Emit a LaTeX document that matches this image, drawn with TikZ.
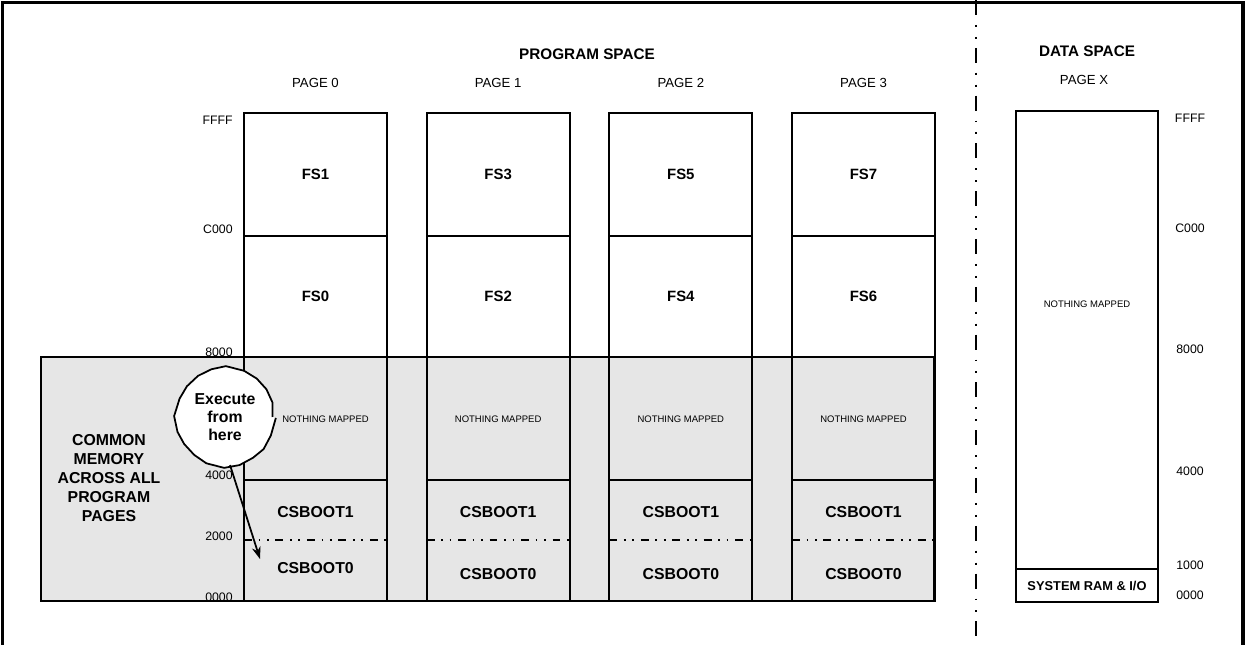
\documentclass[tikz,border=0pt]{standalone}
\usepackage{fontspec}
\setmainfont{Liberation Sans}
\usepackage{xcolor}
\definecolor{commonGray}{HTML}{E6E6E6}
\usetikzlibrary{arrows.meta,decorations.pathmorphing}

\tikzset{
  region/.style={draw, line width=1pt},
  addr/.style={font=\fontsize{7}{8}\selectfont, inner sep=0pt},
  pagelbl/.style={font=\fontsize{7.5}{9}\selectfont, inner sep=0pt},
  spacetitle/.style={font=\bfseries\fontsize{8.7}{10}\selectfont, inner sep=0pt},
  seglbl/.style={font=\bfseries\fontsize{9}{10.8}\selectfont, inner sep=0pt, align=center},
  fslbl/.style={font=\bfseries\fontsize{8.5}{10}\selectfont, inner sep=0pt},
  tinylbl/.style={font=\fontsize{5.4}{6}\selectfont, inner sep=0pt},
  bootsplit/.style={line width=1pt, dash pattern=on 4.5pt off 3.8pt on 1pt off 3.8pt on 1pt off 3.8pt},
  spacesplit/.style={line width=1.1pt, dash pattern=on 8.5pt off 5.7pt on 1.1pt off 5.7pt on 1.1pt off 5.1pt},
}

\begin{document}
\begin{tikzpicture}[x=0.2mm, y=-0.2mm]
  \useasboundingbox (0,0) rectangle (1247,645);
  \pgfmathsetseed{11}

  % frame and split between the two spaces
  \draw[line width=2.2pt] (2.5,645) -- (2.5,2.5) -- (1243,2.5) -- (1243,645);
  \draw[spacesplit] (976,0) -- (976,645);

  \node[spacetitle] (progtitle) at (587,54) {PROGRAM SPACE};
  \node[spacetitle] (datatitle) at (1087,51) {DATA SPACE};

  % common memory band
  \filldraw[fill=commonGray, line width=1pt] (41,357) rectangle (934,601);
  \node[seglbl] (common) at (109,478) {COMMON\\MEMORY\\ACROSS ALL\\PROGRAM\\PAGES};

  % program pages
  \foreach \p/\hi/\lo/\dx/\yb in {0/FS1/FS0/10/568, 1/FS3/FS2/0/574, 2/FS5/FS4/0/574, 3/FS7/FS6/0/574}{
    \pgfmathsetmacro{\xl}{244+182.67*\p}
    \pgfmathsetmacro{\xc}{\xl+71.5}
    \draw[region] (\xl,113) rectangle (\xl+143,601);
    \draw[region] (\xl,236) -- (\xl+143,236);
    \draw[region] (\xl,480) -- (\xl+143,480);
    \draw[bootsplit] (\xl,540) -- (\xl+143,540);
    \node[pagelbl] (page\p) at (\xc,83) {PAGE \p};
    \node[fslbl] (fshi\p) at (\xc,174.5) {\hi};
    \node[fslbl] (fslo\p) at (\xc,296.5) {\lo};
    \node[tinylbl] (empty\p) at (\xc+\dx,419) {NOTHING MAPPED};
    \node[seglbl] (bootone\p) at (\xc,512) {CSBOOT1};
    \node[seglbl] (bootzero\p) at (\xc,\yb) {CSBOOT0};
  }

  % addresses, program side
  \foreach \a/\y in {FFFF/120, C000/229, 8000/352, 4000/475, 2000/536, 0000/597}
    \node[addr, anchor=east] (paddr\a) at (233,\y) {\a};

  % data page
  \node[pagelbl] (pagex) at (1084,80) {PAGE X};
  \draw[region] (1016,111) rectangle (1158,602);
  \draw[region] (1016,569) -- (1158,569);
  \node[tinylbl] (dataempty) at (1087,304) {NOTHING MAPPED};
  \node[font=\bfseries\fontsize{7.3}{9}\selectfont, inner sep=0pt] (sysram) at (1087,586) {SYSTEM RAM \& I/O};
  \foreach \a/\y in {FFFF/118, C000/228, 8000/349, 4000/471, 1000/565, 0000/595}
    \node[addr] (daddr\a) at (1190,\y) {\a};

  % callout
  \node[circle, draw, fill=white, line width=1pt, minimum size=54pt, inner sep=0pt,
        decorate, decoration={random steps, segment length=8pt, amplitude=0.5pt},
        font=\bfseries\fontsize{9}{10.4}\selectfont, align=center] (exec) at (225,417) {Execute\\from\\here};
  \coordinate (bootentry) at (260,559);
  \draw[line width=1pt, -{Stealth[length=7pt, width=5pt]}] (exec.-84) -- (bootentry);
\end{tikzpicture}
\end{document}
